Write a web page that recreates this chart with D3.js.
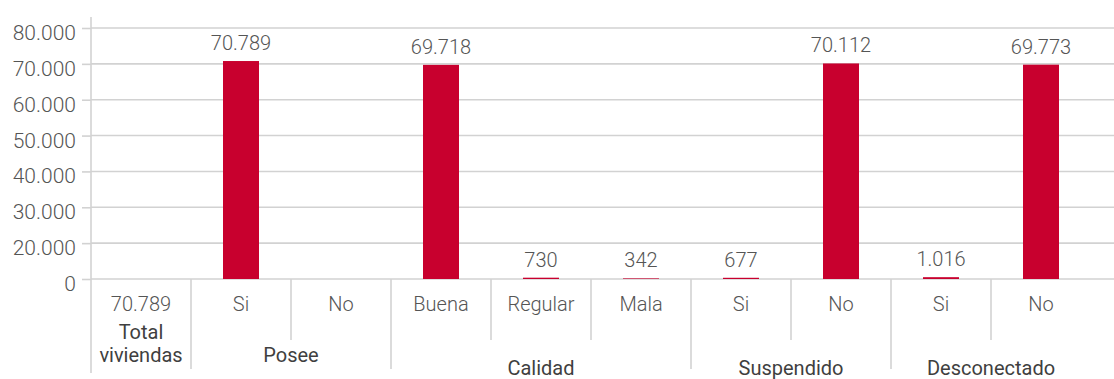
<!DOCTYPE html>
<html>
<head>
<meta charset="utf-8">
<script src="https://cdn.jsdelivr.net/npm/d3@7"></script>
<style>
  html, body { margin: 0; padding: 0; background: #fff; }
  svg { display: block; font-family: Roboto, "Noto Sans", sans-serif; }
</style>
</head>
<body>
<svg id="chart" width="1114" height="379"></svg>
<script>
// Viviendas: tenencia del servicio, calidad, suspensiones y desconexiones
const groups = ["Total viviendas", "Posee", "Calidad", "Suspendido", "Desconectado"];
const subLabels = ["70.789", "Si", "No", "Buena", "Regular", "Mala", "Si", "No", "Si", "No"];
const groupOf = [0, 1, 1, 2, 2, 2, 3, 3, 4, 4];
const values = [null, 70789, null, 69718, 730, 342, 677, 70112, 1016, 69773];
const yTicks = [0, 20000, 30000, 40000, 50000, 60000, 70000, 80000];

const plotLeft = 91, plotRight = 1091, gridRight = 1114;
const baseY = 279, topY = 28;
const RED = "#c8002e", GRID = "#d2d2d2", TXT = "#555";

const loc = d3.formatLocale({ decimal: ",", thousands: ".", grouping: [3], currency: ["$", ""] });
const fmt = loc.format(",d");

const svg = d3.select("#chart");

// Category columns
const idx = subLabels.map((_, i) => i);
const x = d3.scaleBand().domain(idx).range([plotLeft, plotRight]).padding(0);

// Value axis: ticks are evenly spaced, with the first step spanning 0 to 20.000
const tickStep = (baseY - topY) / (yTicks.length - 1);
const y = d3.scaleLinear()
  .domain([0, 20000, 80000])
  .range([baseY, baseY - tickStep, topY]);

// Gridlines and value axis
const yAxis = d3.axisLeft(y).tickValues(yTicks).tickFormat(fmt).tickSize(9).tickPadding(6);
const gy = svg.append("g").attr("transform", `translate(${plotLeft},0)`).call(yAxis);
gy.select(".domain").remove();
gy.selectAll(".tick line").attr("stroke", GRID).attr("stroke-width", 1.6);
gy.selectAll(".tick text")
  .attr("fill", TXT).attr("font-size", 21).attr("font-weight", 300)
  .attr("font-family", "Roboto, sans-serif").attr("dy", "0.55em");

svg.append("g").selectAll("line").data(yTicks).join("line")
  .attr("x1", plotLeft).attr("x2", gridRight)
  .attr("y1", d => y(d)).attr("y2", d => y(d))
  .attr("stroke", GRID).attr("stroke-width", 1.6);

// Vertical axis line running down through the category labels
svg.append("line")
  .attr("x1", plotLeft).attr("x2", plotLeft).attr("y1", 17).attr("y2", 373)
  .attr("stroke", GRID).attr("stroke-width", 1.6);

// Separators between categories: long ones close a group
const seps = idx.slice(1);
svg.append("g").selectAll("line").data(seps).join("line")
  .attr("x1", i => x(i)).attr("x2", i => x(i))
  .attr("y1", baseY)
  .attr("y2", i => groupOf[i] !== groupOf[i - 1] ? 369 : 340)
  .attr("stroke", GRID).attr("stroke-width", 1.6);

// Bars
const barFrac = 0.36;
const bars = idx.filter(i => values[i] != null);
svg.append("g").selectAll("rect").data(bars).join("rect")
  .attr("x", i => x(i) + x.bandwidth() * (1 - barFrac) / 2)
  .attr("width", x.bandwidth() * barFrac)
  .attr("y", i => y(values[i]))
  .attr("height", i => baseY - y(values[i]))
  .attr("fill", RED);

// Value labels
svg.append("g").selectAll("text").data(bars).join("text")
  .attr("x", i => x(i) + x.bandwidth() / 2)
  .attr("y", i => y(values[i]) - 11)
  .attr("text-anchor", "middle")
  .attr("fill", TXT).attr("font-size", 20).attr("font-weight", 300)
  .text(i => fmt(values[i]));

// Sub-category labels
svg.append("g").selectAll("text").data(idx).join("text")
  .attr("x", i => x(i) + x.bandwidth() / 2)
  .attr("y", 311)
  .attr("text-anchor", "middle")
  .attr("fill", TXT).attr("font-size", 20).attr("font-weight", 300)
  .text(i => subLabels[i]);

// Group labels, centred under their columns
const gLab = svg.append("g");
groups.forEach((g, gi) => {
  const cols = idx.filter(i => groupOf[i] === gi);
  const x0 = x(cols[0]), x1 = x(cols[cols.length - 1]) + x.bandwidth();
  const cx = (x0 + x1) / 2;
  const words = (x1 - x0) < 110 ? g.split(" ") : [g];
  const lastBase = gi < 2 ? 362 : 375;
  const t = gLab.append("text")
    .attr("text-anchor", "middle")
    .attr("fill", "#3f3f3f").attr("font-size", 20).attr("font-weight", 400);
  words.forEach((w, k) => {
    t.append("tspan").attr("x", cx)
      .attr("y", lastBase - (words.length - 1 - k) * 23)
      .text(w);
  });
});
</script>
</body>
</html>
